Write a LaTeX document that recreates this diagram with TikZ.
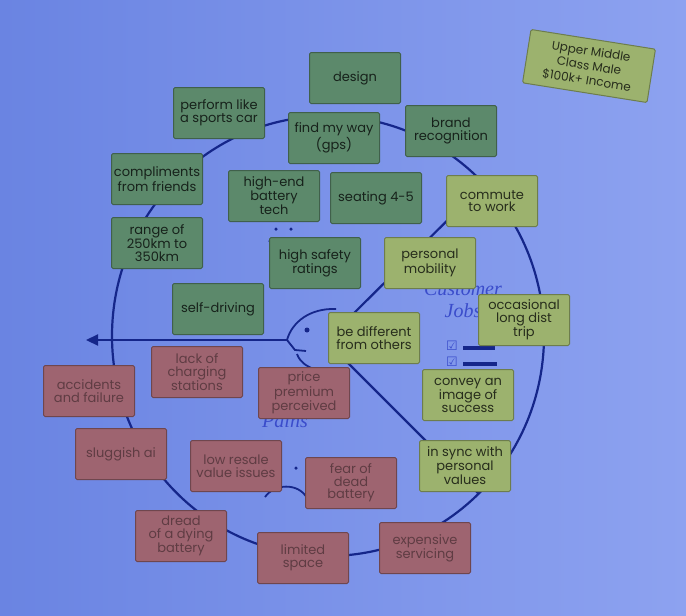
\documentclass[tikz,border=0pt]{standalone}
\usepackage{fontspec}
\setmainfont{Poppins}
\newfontfamily\labelfont{Liberation Serif}
\newfontfamily\symbolfont{DejaVu Sans}
\usetikzlibrary{arrows.meta}
\definecolor{wallleft}{HTML}{6A84E2}
\definecolor{wallright}{HTML}{8DA2F0}
\definecolor{ink}{HTML}{15268A}
\definecolor{labelblue}{HTML}{3A4CCB}
\definecolor{gaingreen}{HTML}{5C896B}
\definecolor{jobgreen}{HTML}{9CB26E}
\definecolor{painred}{HTML}{9E6470}
\tikzset{
  note/.style={minimum width=91pt, minimum height=51pt, inner sep=0pt, align=center,
    font=\fontsize{13}{12.6}\selectfont, fill=#1, draw=#1!70!black, line width=1pt,
    rounded corners=1.5pt},
  gain/.style={note=gaingreen, text=gaingreen!25!black},
  job/.style={note=jobgreen, text=jobgreen!25!black},
  pain/.style={note=painred, text=painred!60!black},
  canvas/.style={draw=ink, line width=2.2pt},
  icondot/.style={fill=ink, circle, inner sep=0pt, minimum size=3.5pt},
  bigtitle/.style={text=labelblue, font=\labelfont\itshape\fontsize{20}{22}\selectfont, align=center},
}
\begin{document}
\begin{tikzpicture}
\fill[left color=wallleft, right color=wallright] (0pt, 0pt) rectangle (686pt, -616pt);

\coordinate (centre) at (328pt, -336pt);
\coordinate (nose) at (287pt, -340pt);
\coordinate (upperhub) at (340pt, -327pt);
\coordinate (lowerhub) at (340pt, -355pt);
\coordinate (gainsend) at (484pt, -184pt);
\coordinate (painsend) at (479pt, -494pt);
\coordinate (arrowend) at (86pt, -340pt);

\draw[canvas] (centre) ellipse [x radius=216pt, y radius=220pt];
\draw[canvas] (upperhub) -- (gainsend);
\draw[canvas] (lowerhub) -- (painsend);
\draw[canvas, -{Triangle[length=12pt, width=11pt]}] (nose) -- (arrowend);

% head
\draw[ink, line width=1.8pt] (336pt, -309pt) .. controls (310pt, -308pt) and (292pt, -322pt) .. (nose);
\draw[ink, line width=1.8pt] (nose) -- (295pt, -350pt) -- (306pt, -351pt);
\draw[ink, line width=1.8pt] (297pt, -354pt) .. controls (300pt, -362pt) and (306pt, -366pt) .. (314pt, -369pt);
\node[icondot, minimum size=5pt] (eye) at (307pt, -330pt) {};

\node[bigtitle] (jobstitle) at (463pt, -300pt) {Customer\\Jobs};
\node[bigtitle] (painstitle) at (285pt, -421pt) {Pains};

\node[icondot] (gaindota) at (276pt, -229pt) {};
\node[icondot] (gaindotb) at (291pt, -229pt) {};
\node[icondot] (gaindotc) at (270pt, -241pt) {};
\node[icondot] (paindot) at (296pt, -468pt) {};
\draw[ink, line width=1.8pt] (265pt, -497pt) .. controls (274pt, -484pt) and (298pt, -482pt) .. (307pt, -498pt);

\node[text=labelblue, font=\symbolfont\fontsize{13}{13}\selectfont] (tickone) at (452pt, -346pt) {☑};
\node[text=labelblue, font=\symbolfont\fontsize{13}{13}\selectfont] (ticktwo) at (452pt, -362pt) {☑};
\draw[ink, line width=3.5pt] (463pt, -348pt) -- (495pt, -348pt);
\draw[ink, line width=3.5pt] (463pt, -364pt) -- (497pt, -364pt);

\node[gain] (design) at (355pt, -78pt) {design};
\node[gain] (sportscar) at (219pt, -113pt) {perform like\\a sports car};
\node[gain] (gps) at (334pt, -138pt) {find my way\\(gps)};
\node[gain] (brand) at (451pt, -131pt) {brand\\recognition};
\node[gain] (compliments) at (157pt, -179pt) {compliments\\from friends};
\node[gain] (battery) at (274pt, -196pt) {high-end\\battery\\tech};
\node[gain] (seating) at (376pt, -198pt) {seating 4-5};
\node[gain] (range) at (157pt, -243pt) {range of\\250km to\\350km};
\node[gain] (safety) at (315pt, -263pt) {high safety\\ratings};
\node[gain] (selfdriving) at (218pt, -309pt) {self-driving};

\node[job] (commute) at (492pt, -201pt) {commute\\to work};
\node[job] (mobility) at (430pt, -263pt) {personal\\mobility};
\node[job] (longtrip) at (524pt, -320pt) {occasional\\long dist\\trip};
\node[job] (different) at (374pt, -338pt) {be different\\from others};
\node[job] (success) at (468pt, -395pt) {convey an\\image of\\success};
\node[job] (values) at (465pt, -466pt) {in sync with\\personal\\values};
\node[job, rotate=-9, minimum width=126pt, minimum height=54pt, font=\fontsize{12}{14.5}\selectfont] (segment) at (589pt, -66pt) {Upper Middle\\Class Male\\\$100k+ Income};

\node[pain] (accidents) at (89pt, -391pt) {accidents\\and failure};
\node[pain] (charging) at (197pt, -372pt) {lack of\\charging\\stations};
\node[pain] (premium) at (304pt, -393pt) {price\\premium\\perceived};
\node[pain] (sluggish) at (121pt, -454pt) {sluggish ai};
\node[pain] (resale) at (236pt, -466pt) {low resale\\value issues};
\node[pain] (deadbattery) at (351pt, -483pt) {fear of\\dead\\battery};
\node[pain] (dying) at (181pt, -536pt) {dread\\of a dying\\battery};
\node[pain] (space) at (303pt, -558pt) {limited\\space};
\node[pain] (servicing) at (425pt, -548pt) {expensive\\servicing};
\end{tikzpicture}
\end{document}
